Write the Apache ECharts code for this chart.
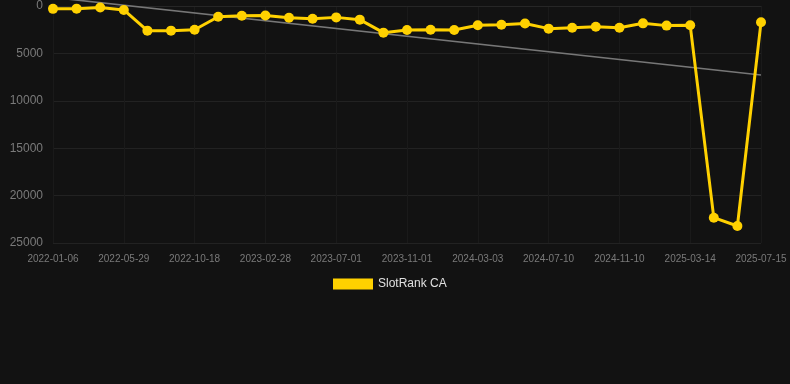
<!DOCTYPE html>
<html>
<head>
<meta charset="utf-8">
<script src="https://cdn.jsdelivr.net/npm/echarts@6/dist/echarts.min.js"></script>
<style>
html,body{margin:0;padding:0;background:#121212;}
#chart{width:790px;height:384px;}
</style>
</head>
<body>
<div id="chart"></div>
<script>
const categories = ["2022-01-06","2022-02-22","2022-04-11","2022-05-29","2022-07-15","2022-08-31","2022-10-18","2022-12-01","2023-01-14","2023-02-28","2023-04-10","2023-05-21","2023-07-01","2023-08-11","2023-09-21","2023-11-01","2023-12-12","2024-01-22","2024-03-03","2024-04-15","2024-05-28","2024-07-10","2024-08-20","2024-09-30","2024-11-10","2024-12-21","2025-01-31","2025-03-14","2025-04-24","2025-06-04","2025-07-15"];
const rankValues = [300,280,150,420,2600,2600,2500,1130,1020,1000,1240,1340,1200,1440,2810,2530,2500,2530,2040,1970,1850,2390,2290,2180,2290,1830,2070,2040,22330,23210,1720];
const trendStart = -900;
const trendEnd = 7280;
const yTicks = {min:0, max:25000, interval:5000};
const seriesName = "SlotRank CA";

const trendData = categories.map((c,i)=> i===0 ? trendStart : (i===categories.length-1 ? trendEnd : null));

const chart = echarts.init(document.getElementById('chart'), null, {renderer:'canvas'});
chart.setOption({
  backgroundColor:'#121212',
  animation:false,
  textStyle:{fontFamily:'Arial, "Liberation Sans", sans-serif'},
  grid:{left:53,right:29,top:6,bottom:141,containLabel:false},
  legend:{
    data:[{name:seriesName,icon:'rect'}],
    top:273,left:328,itemWidth:40,itemHeight:11,itemGap:10,
    textStyle:{color:'#e0e0e0',fontSize:12}
  },
  xAxis:{
    type:'category',data:categories,boundaryGap:false,
    axisLine:{show:true,lineStyle:{color:'#262626'}},
    axisTick:{show:false},
    axisLabel:{interval:2,color:'#7a7a7a',fontSize:10,margin:11},
    splitLine:{show:true,interval:2,lineStyle:{color:'#1a1a1a'}}
  },
  yAxis:{
    type:'value',inverse:true,min:yTicks.min,max:yTicks.max,interval:yTicks.interval,
    axisLine:{show:false},axisTick:{show:false},
    axisLabel:{color:'#7a7a7a',fontSize:12,margin:10,formatter:function(v){return String(v);}},
    splitLine:{show:true,lineStyle:{color:'#222222'}}
  },
  series:[
    {
      name:'trend',type:'line',data:trendData,connectNulls:true,clip:false,
      symbol:'none',silent:true,z:1,
      lineStyle:{color:'#777777',width:1.6},
      itemStyle:{color:'#777777'}
    },
    {
      name:seriesName,type:'line',data:rankValues,z:2,
      symbol:'circle',symbolSize:10,
      lineStyle:{color:'#FFD100',width:3},
      itemStyle:{color:'#FFD100'}
    }
  ]
});
</script>
</body>
</html>
